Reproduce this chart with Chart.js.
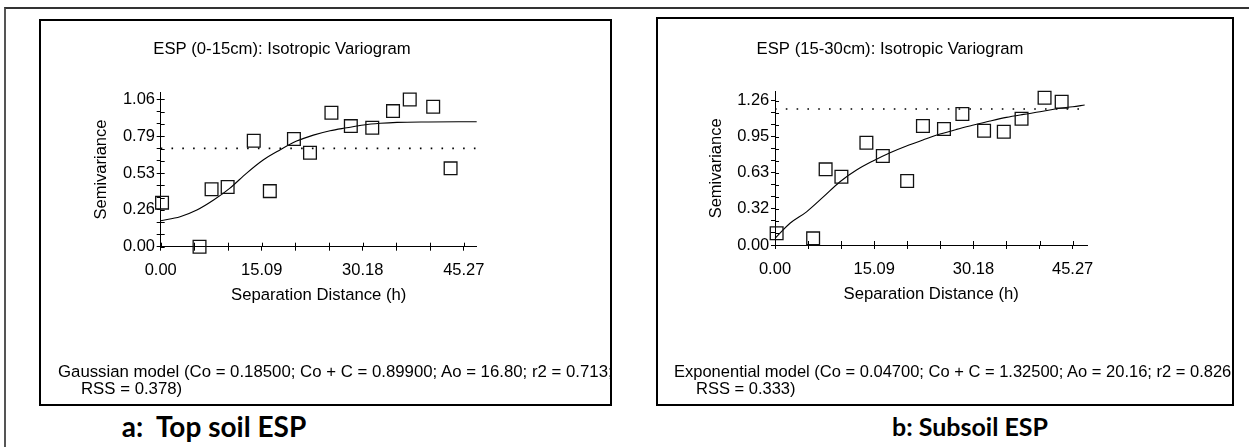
<!DOCTYPE html>
<html><head><meta charset="utf-8">
<script src="https://cdn.jsdelivr.net/npm/chart.js@4.4.0/dist/chart.umd.min.js"></script>
<style>
html,body{margin:0;padding:0;background:#fff;width:1249px;height:447px;overflow:hidden;}
#frame{position:absolute;left:4px;top:7px;width:1300px;height:500px;border-left:2px solid #555;border-top:2px solid #333;}
.box{position:absolute;border:2px solid #000;overflow:hidden;background:#fff;}
.box canvas{position:absolute;left:0;top:0;}
.model{position:absolute;font-family:"Liberation Sans",Arial,sans-serif;line-height:17px;color:#000;white-space:pre;}
.model .l2{padding-left:23px;}
.cap{position:absolute;font-family:Lato,"Open Sans",sans-serif;font-weight:bold;color:#000;white-space:pre;transform:translate(-50%,-50%);}
</style></head>
<body>
<div id="frame"></div>
<div class="box" id="boxA" style="left:39px;top:19px;width:569px;height:383px;">
  <canvas id="cA" width="569" height="383"></canvas>
  <div class="model" style="left:17px;top:342px;font-size:16.8px;"><div>Gaussian model (Co = 0.18500; Co + C = 0.89900; Ao = 16.80; r2 = 0.713;</div><div class="l2">RSS = 0.378)</div></div>
</div>
<div class="box" id="boxB" style="left:656px;top:17px;width:574px;height:385px;">
  <canvas id="cB" width="574" height="385"></canvas>
  <div class="model" style="left:16px;top:344px;font-size:16.5px;"><div>Exponential model (Co = 0.04700; Co + C = 1.32500; Ao = 20.16; r2 = 0.826;</div><div class="l2" style="padding-left:22px;">RSS = 0.333)</div></div>
</div>
<div class="cap" style="left:214px;top:426px;font-size:28px;">a:  Top soil ESP</div>
<div class="cap" style="left:970px;top:426px;font-size:25px;">b: Subsoil ESP</div>
<script>
// ---------- Panel a: ESP (0-15cm) ----------
const aTitle = 'ESP (0-15cm): Isotropic Variogram';
const aLag   = [0.2, 5.8, 7.6, 10.0, 13.9, 16.3, 19.9, 22.3, 25.5, 28.4, 31.6, 34.7, 37.2, 40.7, 43.3];
const aGamma = [0.317, 0.0, 0.413, 0.43, 0.763, 0.40, 0.775, 0.676, 0.964, 0.868, 0.856, 0.976, 1.06, 1.007, 0.564];
const aCurveX = [0, 2.9, 5.4, 7.9, 10.3, 12.8, 15.3, 17.8, 20.3, 22.8, 25.3, 27.8, 30.3, 32.8, 35.3, 40.0, 47.2];
const aCurveY = [0.187, 0.216, 0.264, 0.336, 0.42, 0.528, 0.624, 0.696, 0.76, 0.803, 0.835, 0.856, 0.876, 0.888, 0.895, 0.898, 0.899];
const aSill = 0.708;
const aYTicks = [0, 0.265, 0.53, 0.795, 1.06];
const aYTickLabels = ['0.00', '0.26', '0.53', '0.79', '1.06'];
const aXTicks = [0, 15.09, 30.18, 45.27];
const aXTickLabels = ['0.00', '15.09', '30.18', '45.27'];

// ---------- Panel b: ESP (15-30cm) ----------
const bTitle = 'ESP (15-30cm): Isotropic Variogram';
const bLag   = [0.25, 5.8, 7.7, 10.1, 13.9, 16.4, 20.1, 22.5, 25.7, 28.5, 31.8, 34.8, 37.5, 41.0, 43.6];
const bGamma = [0.102, 0.058, 0.661, 0.597, 0.893, 0.777, 0.559, 1.039, 1.013, 1.144, 0.998, 0.99, 1.103, 1.287, 1.252];
const bCurveX = [0, 2.28, 4.8, 7.35, 9.88, 12.4, 14.9, 17.5, 20.0, 22.5, 25.1, 27.6, 30.2, 32.7, 35.2, 37.8, 40.3, 42.8, 45.3, 47.1];
const bCurveY = [0.058, 0.19, 0.29, 0.42, 0.553, 0.655, 0.734, 0.806, 0.865, 0.917, 0.969, 1.01, 1.048, 1.083, 1.115, 1.141, 1.164, 1.19, 1.208, 1.223];
const bSill = 1.188;
const bYTicks = [0, 0.315, 0.63, 0.945, 1.26];
const bYTickLabels = ['0.00', '0.32', '0.63', '0.95', '1.26'];
const bXTicks = [0, 15.09, 30.18, 45.27];
const bXTickLabels = ['0.00', '15.09', '30.18', '45.27'];

const yTitle = 'Semivariance';
const xTitle = 'Separation Distance (h)';

const FONT = '"Liberation Sans", Arial, sans-serif';
const FS = 16.5;

// expand major ticks into major + 2 minor ticks between each pair
function withMinor(major) {
  const out = [];
  for (let i = 0; i < major.length; i++) {
    out.push({v: major[i], lab: i});
    if (i < major.length - 1) {
      const d = (major[i + 1] - major[i]) / 3;
      out.push({v: major[i] + d, lab: -1});
      out.push({v: major[i] + 2 * d, lab: -1});
    }
  }
  return out;
}

const innerTicks = {
  id: 'innerTicks',
  afterDraw(chart) {
    const ctx = chart.ctx, xs = chart.scales.x, ys = chart.scales.y, len = 4;
    const ca = chart.chartArea;
    ctx.save();
    ctx.strokeStyle = '#000';
    ctx.lineWidth = 1;
    ctx.beginPath();
    xs.ticks.forEach((t, i) => {
      const p = Math.round(xs.getPixelForTick(i)) + 0.5;
      ctx.moveTo(p, ca.bottom); ctx.lineTo(p, ca.bottom - len);
    });
    ys.ticks.forEach((t, i) => {
      const p = Math.round(ys.getPixelForTick(i)) + 0.5;
      ctx.moveTo(ca.left, p); ctx.lineTo(ca.left + len, p);
    });
    ctx.stroke();
    ctx.restore();
  }
};

function build(id, p) {
  const yT = withMinor(p.yTicks), xT = withMinor(p.xTicks);
  return new Chart(document.getElementById(id), {
    type: 'scatter',
    data: {
      datasets: [
        {
          data: p.lag.map((x, i) => ({x, y: p.gamma[i]})),
          pointStyle: 'rect', pointRadius: 9, pointBorderWidth: 1.3,
          borderColor: '#111', backgroundColor: 'rgba(0,0,0,0)', clip: false, order: 1
        },
        {
          data: p.curveX.map((x, i) => ({x, y: p.curveY[i]})),
          showLine: true, pointRadius: 0, borderColor: '#000', borderWidth: 1.1,
          cubicInterpolationMode: 'monotone', clip: false, order: 2
        },
        {
          data: [{x: 0, y: p.sill}, {x: p.xMax, y: p.sill}],
          showLine: true, pointRadius: 0, borderColor: '#000', borderWidth: 1.6,
          borderDash: [1.6, 9.2], clip: false, order: 3
        }
      ]
    },
    options: {
      responsive: false, animation: false, devicePixelRatio: 1,
      layout: {autoPadding: false, padding: {left: p.padL, right: p.padR, top: 0, bottom: p.padB}},
      plugins: {
        legend: {display: false}, tooltip: {enabled: false},
        title: {display: true, text: p.title, color: '#000', font: {family: FONT, size: 16.7, weight: 'normal', lineHeight: 1.2},
                padding: {top: p.t1, bottom: p.t2}}
      },
      scales: {
        x: {
          type: 'linear', min: 0, max: p.xMax,
          afterBuildTicks: s => { s.ticks = xT.map(t => ({value: t.v})); },
          afterFit: s => { s.height = 65; },
          ticks: {autoSkip: false, maxRotation: 0, color: '#000', padding: p.xTickPad,
                  font: {family: FONT, size: FS, lineHeight: 1.2},
                  callback: (v, i) => xT[i].lab >= 0 ? p.xLabels[xT[i].lab] : ''},
          grid: {display: true, drawOnChartArea: false, drawTicks: true, tickLength: 4, color: '#000', lineWidth: 1},
          border: {display: true, color: '#000', width: 1},
          title: {display: true, text: xTitle, color: '#000', font: {family: FONT, size: 16.7, lineHeight: 1.2},
                  padding: {top: 0, bottom: p.xTitlePad}}
        },
        y: {
          type: 'linear', min: 0, max: p.yMax,
          afterBuildTicks: s => { s.ticks = yT.map(t => ({value: t.v})); },
          afterFit: s => { s.width = p.yW; },
          ticks: {autoSkip: false, color: '#000', padding: 1.7,
                  font: {family: FONT, size: FS, lineHeight: 1.2},
                  callback: (v, i) => yT[i].lab >= 0 ? p.yLabels[yT[i].lab] : ''},
          grid: {display: true, drawOnChartArea: false, drawTicks: true, tickLength: 4, color: '#000', lineWidth: 1},
          border: {display: true, color: '#000', width: 1},
          title: {display: true, text: yTitle, color: '#000', font: {family: FONT, size: FS, lineHeight: 1.2},
                  padding: {top: p.yTitlePad, bottom: 0}}
        }
      }
    },
    plugins: [innerTicks]
  });
}

build('cA', {
  title: aTitle, lag: aLag, gamma: aGamma, curveX: aCurveX, curveY: aCurveY, sill: aSill,
  yTicks: aYTicks, yLabels: aYTickLabels, xTicks: aXTicks, xLabels: aXTickLabels,
  xMax: 47.2, yMax: 1.111,
  padL: 46.3, padR: 133.3, padB: 92.3, t1: 18.0, t2: 33.3, yW: 73.4,
  yTitlePad: 4.0, xTitlePad: 6.0, xTickPad: 10.2
});
build('cB', {
  title: bTitle, lag: bLag, gamma: bGamma, curveX: bCurveX, curveY: bCurveY, sill: bSill,
  yTicks: bYTicks, yLabels: bYTickLabels, xTicks: bXTicks, xLabels: bXTickLabels,
  xMax: 47.5, yMax: 1.339,
  padL: 34.7, padR: 144.7, padB: 94, t1: 20.0, t2: 32.7, yW: 82.3,
  yTitlePad: 13.6, xTitlePad: 5.3, xTickPad: 10.5
});
</script>
</body></html>
